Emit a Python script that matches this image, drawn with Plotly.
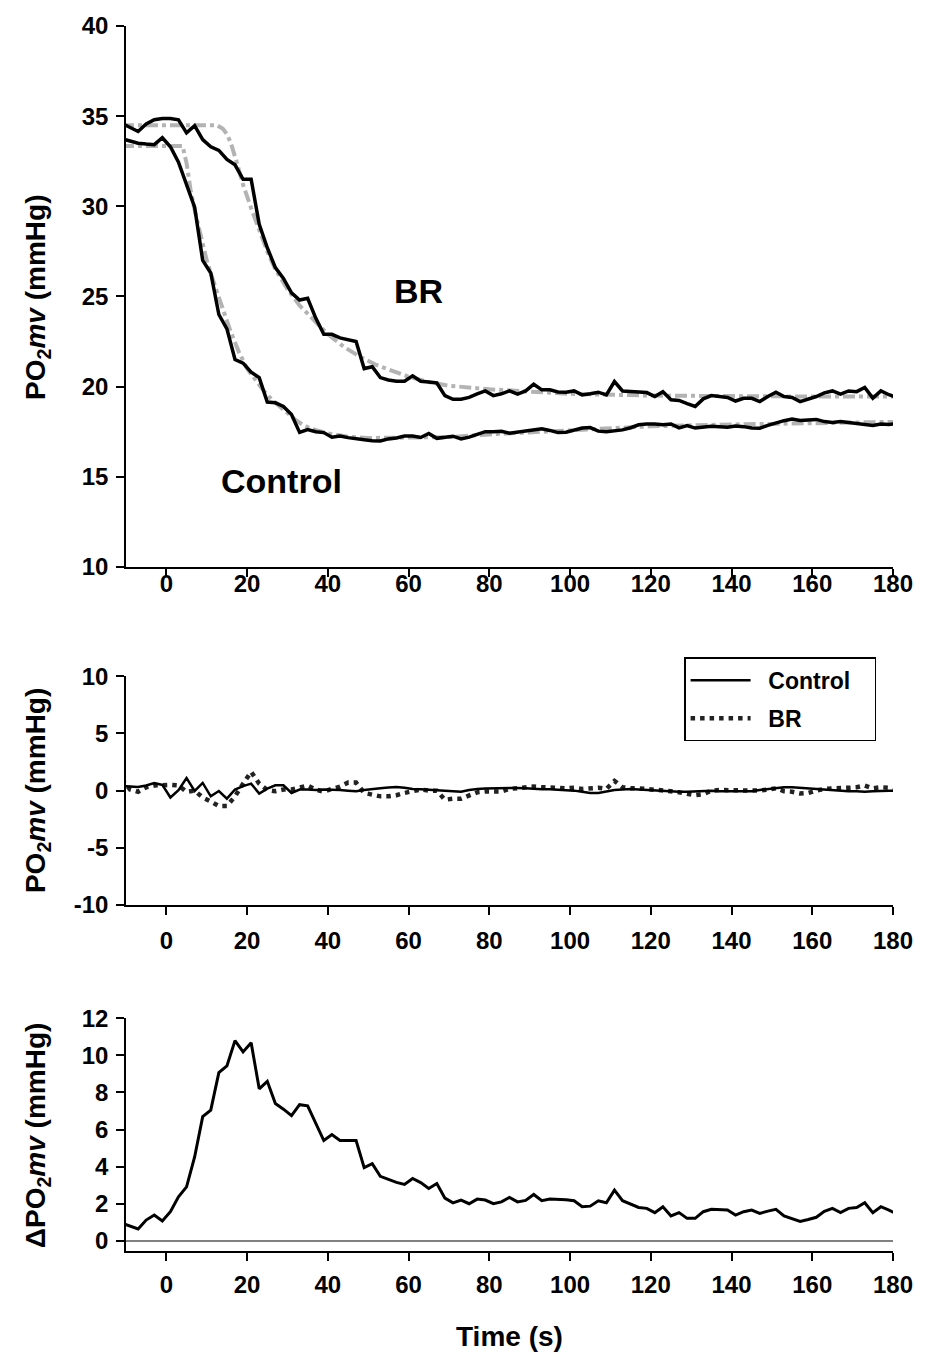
import plotly.graph_objects as go

# ---------------- data ----------------
time_s = list(range(-11, 182, 2))  # sample times (s)

control_po2 = [33.75, 33.6, 33.5, 33.45, 33.42, 33.8, 33.3, 32.45, 31.15, 29.95,
               27.0, 26.3, 24.0, 23.2, 21.5, 21.3, 20.8, 20.5, 19.14, 19.1,
               18.9, 18.45, 17.46, 17.62, 17.5, 17.45, 17.19, 17.26, 17.17, 17.09,
               17.05, 17.0, 16.98, 17.1, 17.15, 17.26, 17.26, 17.18, 17.4, 17.13,
               17.2, 17.25, 17.1, 17.2, 17.35, 17.5, 17.5, 17.52, 17.42, 17.48,
               17.58, 17.63, 17.66, 17.57, 17.45, 17.47, 17.6, 17.7, 17.73, 17.53,
               17.49, 17.55, 17.6, 17.72, 17.88, 17.92, 17.93, 17.88, 17.93, 17.71,
               17.84, 17.7, 17.75, 17.8, 17.77, 17.74, 17.81, 17.78, 17.7, 17.69,
               17.85, 17.99, 18.11, 18.2, 18.12, 18.15, 18.18, 18.06, 18.01, 18.06,
               18.01, 17.92, 17.9, 17.84, 17.92, 17.9, 17.95]

br_po2 = [34.6, 34.38, 34.15, 34.57, 34.8, 34.87, 34.87, 34.8, 34.07, 34.47,
          33.7, 33.3, 33.1, 32.6, 32.3, 31.5, 31.5, 29.0, 27.7, 26.6,
          26.0, 25.2, 24.8, 24.9, 23.8, 22.9, 22.9, 22.7, 22.6, 22.5,
          21.0, 21.1, 20.5, 20.37, 20.3, 20.3, 20.6, 20.3, 20.25, 20.2,
          19.5, 19.3, 19.3, 19.4, 19.6, 19.76, 19.5, 19.6, 19.76, 19.58,
          19.76, 20.13, 19.82, 19.82, 19.7, 19.69, 19.76, 19.54, 19.6, 19.69,
          19.54, 20.28, 19.76, 19.72, 19.7, 19.67, 19.45, 19.72, 19.27, 19.23,
          19.05, 18.9, 19.32, 19.5, 19.45, 19.4, 19.2, 19.35, 19.35, 19.17,
          19.45, 19.69, 19.45, 19.4, 19.17, 19.3, 19.45, 19.65, 19.76, 19.58,
          19.76, 19.72, 19.95, 19.36, 19.76, 19.55, 19.4]

# model fits (gray dash-dot curves), read at key points
control_fit_t = [-11, 4, 5, 6, 7, 8, 10, 12, 14, 16, 18, 20, 22, 24, 26, 28, 30, 32,
                 34, 36, 40, 45, 50, 60, 70, 80, 100, 120, 140, 160, 182]
control_fit_v = [33.35, 33.35, 32.4, 30.9, 29.8, 28.8, 27.0, 25.6, 24.3, 23.0, 21.9, 21.0,
                 20.4, 19.8, 19.3, 18.9, 18.5, 18.15, 17.85, 17.65, 17.4, 17.22, 17.15,
                 17.15, 17.2, 17.35, 17.6, 17.8, 17.9, 18.0, 18.05]
br_fit_t = [-11, 12.5, 14, 15, 16, 17, 18, 19, 20, 21, 23, 25, 27, 30, 33, 36, 40, 44,
            48, 52, 56, 60, 65, 70, 80, 90, 100, 120, 140, 160, 182]
br_fit_v = [34.5, 34.5, 34.3, 34.0, 33.5, 32.8, 32.0, 31.2, 30.5, 29.9, 28.7, 27.5,
            26.5, 25.4, 24.5, 23.8, 22.9, 22.2, 21.65, 21.2, 20.85, 20.55, 20.25,
            20.05, 19.85, 19.7, 19.6, 19.5, 19.45, 19.45, 19.45]

control_resid = [0.4, 0.36, 0.32, 0.45, 0.67, 0.5, -0.6, 0.03, 1.1, -0.03,
                 0.67, -0.5, -0.03, -0.7, 0.1, 0.4, 0.61, -0.26, 0.18, 0.46,
                 0.46, -0.2, 0.1, 0.1, 0.05, 0.1, 0.1, 0.05, 0.0, -0.05,
                 0.05, 0.1, 0.2, 0.28, 0.32, 0.25, 0.15, 0.12, 0.08, 0.05,
                 0.03, 0.0, -0.1, 0.05, 0.15, 0.18, 0.2, 0.22, 0.24, 0.24,
                 0.2, 0.15, 0.12, 0.12, 0.1, 0.05, 0.0, -0.1, -0.2, -0.2,
                 -0.05, 0.05, 0.1, 0.15, 0.1, 0.05, 0.0, -0.05, -0.05, -0.1,
                 -0.1, -0.05, 0.0, 0.0, -0.05, -0.05, -0.05, -0.1, -0.05, 0.05,
                 0.15, 0.25, 0.3, 0.3, 0.25, 0.2, 0.1, 0.05, 0.0, 0.0,
                 -0.05, -0.05, -0.1, -0.05, 0.0, 0.0, 0.0]

br_resid = [1.0, 0.1, -0.1, 0.3, 0.45, 0.5, 0.5, 0.45, -0.1, 0.0,
            -0.6, -0.95, -1.35, -1.35, -0.5, 0.6, 1.65, 0.6, 0.05, -0.05,
            0.1, 0.1, 0.25, 0.45, 0.1, -0.1, 0.15, 0.35, 0.7, 0.7,
            -0.2, -0.35, -0.5, -0.5, -0.4, -0.2, 0.0, 0.1, 0.0, 0.0,
            -0.8, -0.7, -0.7, -0.45, -0.15, -0.08, -0.1, -0.07, 0.15, 0.25,
            0.3, 0.35, 0.3, 0.3, 0.25, 0.2, 0.25, 0.15, 0.2, 0.25,
            0.15, 0.85, 0.3, 0.2, 0.2, 0.15, 0.1, 0.05, -0.05, -0.15,
            -0.25, -0.4, -0.3, 0.0, 0.05, 0.05, 0.0, 0.05, 0.05, 0.0,
            0.1, 0.2, -0.05, -0.1, -0.25, -0.2, 0.0, 0.15, 0.2, 0.2,
            0.25, 0.3, 0.45, 0.2, 0.3, 0.25, 0.1]

delta_po2 = [0.95, 0.78, 0.64, 1.12, 1.39, 1.07, 1.57, 2.37, 2.91, 4.52,
             6.7, 7.05, 9.07, 9.43, 10.8, 10.19, 10.68, 8.2, 8.6, 7.4,
             7.1, 6.75, 7.34, 7.28, 6.3, 5.41, 5.73, 5.41, 5.41, 5.41,
             3.95, 4.16, 3.48, 3.3, 3.15, 3.04, 3.36, 3.14, 2.82, 3.09,
             2.3, 2.05, 2.2, 2.0, 2.25, 2.2, 2.0, 2.1, 2.34, 2.1,
             2.18, 2.5, 2.16, 2.25, 2.25, 2.22, 2.16, 1.84, 1.87, 2.16,
             2.05, 2.73, 2.16, 2.0, 1.8, 1.75, 1.52, 1.84, 1.34, 1.52,
             1.21, 1.21, 1.57, 1.7, 1.68, 1.66, 1.39, 1.57, 1.66, 1.48,
             1.6, 1.7, 1.34, 1.2, 1.05, 1.15, 1.27, 1.59, 1.75, 1.52,
             1.75, 1.8, 2.05, 1.52, 1.84, 1.65, 1.45]

x_ticks = [0, 20, 40, 60, 80, 100, 120, 140, 160, 180]
top_y_ticks = [10, 15, 20, 25, 30, 35, 40]
mid_y_ticks = [-10, -5, 0, 5, 10]
mid_y_ticktext = ["-10", "-5", "0", "5", "10"]
bot_y_ticks = [0, 2, 4, 6, 8, 10, 12]

# ---------------- figure ----------------
FONT = "Liberation Sans, Arial, sans-serif"
GRAY = "#b3b3b3"
NB = "\u00a0"
fig = go.Figure()

fit_dash = "12px,4px,4px,4px"
fig.add_trace(go.Scatter(x=control_fit_t, y=control_fit_v, mode="lines",
                         line=dict(color=GRAY, width=4, dash=fit_dash),
                         showlegend=False, xaxis="x", yaxis="y"))
fig.add_trace(go.Scatter(x=br_fit_t, y=br_fit_v, mode="lines",
                         line=dict(color=GRAY, width=4, dash=fit_dash),
                         showlegend=False, xaxis="x", yaxis="y"))
fig.add_trace(go.Scatter(x=time_s, y=control_po2, mode="lines",
                         line=dict(color="black", width=3.5),
                         showlegend=False, xaxis="x", yaxis="y"))
fig.add_trace(go.Scatter(x=time_s, y=br_po2, mode="lines",
                         line=dict(color="black", width=3.5),
                         showlegend=False, xaxis="x", yaxis="y"))

fig.add_trace(go.Scatter(x=time_s, y=br_resid, mode="lines",
                         name=NB * 2 + "BR" + NB * 3, legendgroup="b",
                         line=dict(color="#222222", width=4.5, dash="4.5px,5px"),
                         legendrank=2, xaxis="x2", yaxis="y2"))
fig.add_trace(go.Scatter(x=time_s, y=control_resid, mode="lines",
                         name=NB * 2 + "Control" + NB * 3, legendgroup="a",
                         line=dict(color="black", width=2.5),
                         legendrank=1, xaxis="x2", yaxis="y2"))

fig.add_trace(go.Scatter(x=time_s, y=delta_po2, mode="lines",
                         line=dict(color="black", width=3),
                         showlegend=False, xaxis="x3", yaxis="y3"))

tickfont = dict(family=FONT, size=24, color="black", weight="bold")
common_x = dict(range=[-10, 180], tickvals=x_ticks, showline=True, linecolor="black",
                linewidth=1.5, ticks="outside", ticklen=8, tickwidth=1.5,
                tickcolor="black", showgrid=False, zeroline=False, tickfont=tickfont)
common_y = dict(showline=True, linecolor="black", linewidth=1.5, ticks="outside",
                ticklen=8, tickwidth=1.5, tickcolor="black", showgrid=False,
                tickfont=tickfont, ticklabelstandoff=3)

H = 1232.0
fig.update_layout(
    width=925, height=1357,
    margin=dict(l=126, r=28, t=19, b=106),
    paper_bgcolor="white", plot_bgcolor="white",
    font=dict(family=FONT, color="black"),
    xaxis=dict(domain=[0, 1], anchor="y", ticklabelstandoff=-13, **common_x),
    yaxis=dict(domain=[(1251 - 563) / H, 1], anchor="x", range=[10, 40],
               tickvals=top_y_ticks, zeroline=False, **common_y),
    xaxis2=dict(domain=[0, 1], anchor="y2", ticklabelstandoff=5, **common_x),
    yaxis2=dict(domain=[(1251 - 903) / H, (1251 - 673) / H], anchor="x2",
                range=[-10, 10], tickvals=mid_y_ticks, ticktext=mid_y_ticktext,
                zeroline=False, **common_y),
    xaxis3=dict(domain=[0, 1], anchor="y3", ticklabelstandoff=3, **common_x),
    yaxis3=dict(domain=[0, (1251 - 1017) / H], anchor="x3", range=[-0.55, 12],
                tickvals=bot_y_ticks, zeroline=True, zerolinecolor="#808080",
                zerolinewidth=1.5, **common_y),
    legend=dict(x=(687 - 126) / 771.0, y=(1251 - 654) / H, xanchor="left", yanchor="top",
                bordercolor="black", borderwidth=1.5, bgcolor="white",
                font=dict(family=FONT, size=23, color="black", weight="bold"),
                itemwidth=60, tracegroupgap=5),
)

title_font = dict(family=FONT, size=28, color="black", weight="bold")
x_title = (37 - 126) / 771.0
annots = [
    dict(text="PO<sub>2</sub><i>mv</i> (mmHg)", x=x_title, y=(1251 - 292) / H),
    dict(text="PO<sub>2</sub><i>mv</i> (mmHg)", x=x_title, y=(1251 - 788) / H),
    dict(text="ΔPO<sub>2</sub><i>mv</i> (mmHg)", x=x_title, y=(1251 - 1134) / H),
]
for a in annots:
    fig.add_annotation(xref="paper", yref="paper", showarrow=False, textangle=-90,
                       xanchor="center", yanchor="middle", font=title_font, **a)

fig.add_annotation(xref="paper", yref="paper", x=0.5, y=(1251 - 1337) / H,
                   text="Time (s)", showarrow=False, xanchor="center", yanchor="middle",
                   font=title_font)
fig.add_annotation(xref="x", yref="y", x=62.4, y=25.3, text="BR", showarrow=False,
                   font=dict(family=FONT, size=34, color="black", weight="bold"))
fig.add_annotation(xref="x", yref="y", x=28.6, y=14.74, text="Control", showarrow=False,
                   font=dict(family=FONT, size=34, color="black", weight="bold"))

fig.write_html("out.html")
